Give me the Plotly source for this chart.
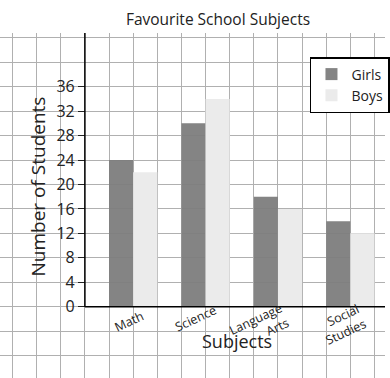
import plotly.graph_objects as go

# data
subjects = ["Math", "Science", "Language<br>Arts", "Social<br>Studies"]
girls = [24, 30, 18, 14]
boys = [22, 34, 16, 12]
y_ticks = [0, 4, 8, 12, 16, 20, 24, 28, 32, 36]

# layout numbers (graph-paper units: 1 x unit = 4 y units)
W, H = 390, 378
TOP = 33
AXIS_X_PX = 86
AXIS_Y_PX = 306.7
PX_PER_Y = 6.111
PX_PER_X = 4 * PX_PER_Y

y_max = (AXIS_Y_PX - TOP) / PX_PER_Y
y_min = -(H - AXIS_Y_PX) / PX_PER_Y
x_min = -AXIS_X_PX / PX_PER_X
x_max = (W - AXIS_X_PX) / PX_PER_X

# each subject takes 3 squares: girls, boys, gap
centers = [2 + 3 * i for i in range(len(subjects))]

# pixel nudges for the slanted labels (right ends line up near the bars)
label_nudge = [(-4, -15), (-10, -12), (-19, -20), (-8, -18)]

FONT = "Open Sans"
GRID = "#b0b0b0"
TXT = "#222"

fig = go.Figure()
fig.add_trace(go.Bar(x=centers, y=girls, name="Girls",
                     marker=dict(color="#7e7e7e", line=dict(width=0)), opacity=0.95))
fig.add_trace(go.Bar(x=centers, y=boys, name="Boys",
                     marker=dict(color="#ebebeb", line=dict(width=0))))

fig.update_layout(
    width=W, height=H,
    margin=dict(l=0, r=0, t=TOP, b=0),
    paper_bgcolor="white", plot_bgcolor="white",
    font=dict(family=FONT, color=TXT),
    title=dict(text="Favourite School Subjects", x=218 / W, xanchor="center",
               y=1 - 20 / H, yanchor="middle", font=dict(size=15.5, color=TXT)),
    barmode="group", bargap=1 / 3, bargroupgap=0,
    xaxis=dict(range=[x_min, x_max], anchor="free",
               position=(H - AXIS_Y_PX) / (H - TOP),
               tickvals=centers, showticklabels=False,
               ticks="", showgrid=False, zeroline=False, showline=False,
               minor=dict(tickmode="linear", tick0=0, dtick=1, showgrid=True,
                          gridcolor=GRID, gridwidth=1, ticks="")),
    yaxis=dict(range=[y_min, y_max], anchor="free", position=AXIS_X_PX / W,
               tickvals=y_ticks, ticks="outside", ticklen=7, tickcolor=TXT,
               showgrid=False, zeroline=False, showline=False,
               tickfont=dict(size=16, color=TXT),
               minor=dict(tickmode="linear", tick0=0, dtick=4, showgrid=True,
                          gridcolor=GRID, gridwidth=1, ticks="")),
    legend=dict(x=314 / W, y=1 - (57 - TOP) / (H - TOP), xanchor="left", yanchor="top",
                bgcolor="white", bordercolor="black", borderwidth=1.5,
                font=dict(size=14, color=TXT), itemwidth=30),
)

# axis lines
fig.add_shape(type="line", x0=0, x1=0, y0=0, y1=y_max, xref="x", yref="y",
              line=dict(color="black", width=1.5))
fig.add_shape(type="line", x0=0, x1=x_max, y0=0, y1=0, xref="x", yref="y",
              line=dict(color="black", width=1.5))

# axis titles
fig.add_annotation(text="Number of Students", textangle=-90,
                   x=38 / W, y=1 - (187 - TOP) / (H - TOP),
                   xref="paper", yref="paper", xanchor="center", yanchor="middle",
                   showarrow=False, font=dict(size=19, color=TXT))
fig.add_annotation(text="Subjects", x=240 / W, y=1 - (341 - TOP) / (H - TOP),
                   xref="paper", yref="paper", xanchor="center", yanchor="middle",
                   showarrow=False, font=dict(size=18, color=TXT))

# slanted subject labels under the axis
for c, s, (dx, dy) in zip(centers, subjects, label_nudge):
    fig.add_annotation(x=c, y=0, xref="x", yref="y", text=s, showarrow=False,
                       textangle=-25, align="right", xanchor="center", yanchor="middle",
                       xshift=dx, yshift=dy, font=dict(size=12.5, color=TXT))

# drop the browser's default 8px body margin so the figure sits at the page corner
fig.write_html("out.html", config={"displayModeBar": False},
               post_script="document.body.style.margin='0';")
